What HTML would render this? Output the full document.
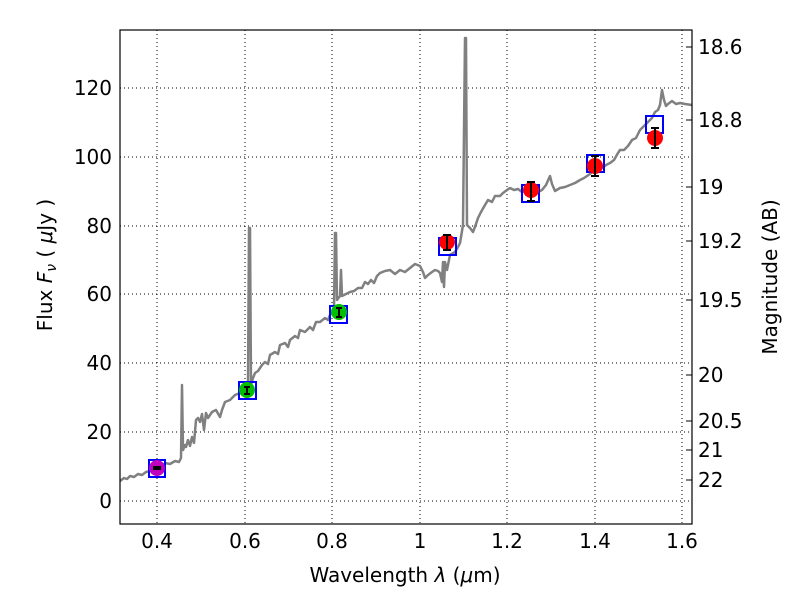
<!DOCTYPE html><html><head><style>body{margin:0;background:#fff}svg text{font-family:"DejaVu Sans","Liberation Sans",sans-serif}</style></head><body>
<svg width="800" height="600" xmlns="http://www.w3.org/2000/svg">
<rect width="800" height="600" fill="#fff"/>
<g stroke="#000" stroke-dasharray="1,3" stroke-width="1">
<line x1="157" y1="30" x2="157" y2="524"/><line x1="245" y1="30" x2="245" y2="524"/><line x1="332" y1="30" x2="332" y2="524"/><line x1="420" y1="30" x2="420" y2="524"/><line x1="507" y1="30" x2="507" y2="524"/><line x1="595" y1="30" x2="595" y2="524"/><line x1="682" y1="30" x2="682" y2="524"/>
<line x1="120" y1="501" x2="692" y2="501"/><line x1="120" y1="432" x2="692" y2="432"/><line x1="120" y1="363" x2="692" y2="363"/><line x1="120" y1="294" x2="692" y2="294"/><line x1="120" y1="226" x2="692" y2="226"/><line x1="120" y1="157" x2="692" y2="157"/><line x1="120" y1="88" x2="692" y2="88"/>
</g>
<polyline fill="none" stroke="#808080" stroke-width="2.5" stroke-linejoin="round" points="120,481 124,478 127,479 130,476 134,477 138,474 142,475 146,472 150,471 157,466 161,467 165,463 170,464 175,461 179,462 181,458 182,385 183,450 185,445 186,447 188,440 190,446 192,437 194,443 196,420 198,418 200,422 202,414 204,430 206,413 208,418 212,412 216,410 220,417 222,410 225,402 230,400 235,395 240,393 245,390 248,385 249,228 250,228 251,385 253,378 255,373 258,371 262,365 265,362 268,364 270,355 275,352 278,354 280,345 285,343 288,347 290,340 295,336 298,338 300,330 305,332 310,327 313,330 316,322 320,322 325,318 328,320 330,315 334,310 335,233 336,233 337,300 340,296 341,270 342,296 346,294 350,292 354,291 358,288 362,288 365,282 368,284 371,280 374,283 377,276 380,273 385,271 390,270 395,274 400,270 405,272 410,268 415,264 420,266 423,272 425,278 428,275 432,272 435,270 438,271 440,273 442,282 443,262 444,287 445,262 447,270 450,255 455,252 458,247 460,243 463,225 465,38 466,38 467,225 470,228 473,232 476,224 478,218 481,212 485,205 488,200 492,202 495,196 500,196 503,193 507,190 510,188 514,190 518,189 522,192 526,190 530,194 534,192 538,192 542,190 546,185 550,176 552,184 555,191 560,188 565,187 570,185 575,183 580,180 584,178 590,174 594,170 598,166 602,168 606,165 610,163 614,160 618,153 620,150 624,150 628,146 632,140 636,138 640,130 644,126 648,122 652,118 655,112 658,110 660,105 662,90 664,100 666,106 668,104 672,101 676,104 680,103 685,104 692,105"/>
<g fill="none" stroke="#0000ff" stroke-width="2">
<rect x="149" y="460" width="16" height="17"/><rect x="239" y="382" width="17" height="17"/><rect x="330" y="306" width="17" height="17"/><rect x="439" y="238" width="17" height="17"/><rect x="522" y="185" width="17" height="17"/><rect x="587" y="155" width="17" height="17"/><rect x="646" y="116" width="17" height="17"/>
</g>
<circle cx="157" cy="468" r="8" fill="#bf00bf"/><circle cx="247" cy="390" r="8" fill="#00bf00"/><circle cx="339" cy="312" r="8" fill="#00bf00"/>
<circle cx="447" cy="242" r="8" fill="#f00"/><circle cx="531" cy="190" r="8" fill="#f00"/><circle cx="595" cy="166" r="8" fill="#f00"/><circle cx="655" cy="138" r="8" fill="#f00"/>
<g stroke="#000" stroke-width="2">
<line x1="153" y1="468" x2="161" y2="468" stroke-width="4"/>
<line x1="247" y1="387" x2="247" y2="394"/><line x1="244" y1="387" x2="250" y2="387"/><line x1="244" y1="394" x2="250" y2="394"/>
<line x1="339" y1="308" x2="339" y2="317"/><line x1="336" y1="308" x2="342" y2="308"/><line x1="336" y1="317" x2="342" y2="317"/>
<line x1="447" y1="235" x2="447" y2="250"/><line x1="443" y1="235" x2="451" y2="235"/><line x1="443" y1="250" x2="451" y2="250"/>
<line x1="531" y1="182" x2="531" y2="201"/><line x1="527" y1="182" x2="535" y2="182"/><line x1="527" y1="201" x2="535" y2="201"/>
<line x1="595" y1="156" x2="595" y2="176"/><line x1="591" y1="156" x2="599" y2="156"/><line x1="591" y1="176" x2="599" y2="176"/>
<line x1="655" y1="128" x2="655" y2="148"/><line x1="651" y1="128" x2="659" y2="128"/><line x1="651" y1="148" x2="659" y2="148"/>
</g>
<rect x="120" y="30" width="572" height="494" fill="none" stroke="#000" stroke-width="1.2"/>
<g stroke="#000">
<line x1="692" y1="47" x2="686" y2="47"/><line x1="692" y1="120" x2="686" y2="120"/><line x1="692" y1="187" x2="686" y2="187"/><line x1="692" y1="241" x2="686" y2="241"/><line x1="692" y1="300" x2="686" y2="300"/><line x1="692" y1="375" x2="686" y2="375"/><line x1="692" y1="421" x2="686" y2="421"/><line x1="692" y1="450" x2="686" y2="450"/><line x1="692" y1="480" x2="686" y2="480"/>
</g>
<g font-size="20" fill="#000" text-anchor="end">
<text x="112" y="508">0</text><text x="112" y="439">20</text><text x="112" y="370">40</text><text x="112" y="301">60</text><text x="112" y="233">80</text><text x="112" y="164">100</text><text x="112" y="95">120</text>
</g>
<g font-size="20" fill="#000" text-anchor="middle">
<text x="157" y="548">0.4</text><text x="245" y="548">0.6</text><text x="332" y="548">0.8</text><text x="420" y="548">1</text><text x="507" y="548">1.2</text><text x="595" y="548">1.4</text><text x="682" y="548">1.6</text>
<text x="405" y="582">Wavelength  <tspan font-style="italic">λ</tspan> (<tspan font-style="italic">μ</tspan>m)</text>
</g>
<g font-size="20" fill="#000">
<text x="698" y="54">18.6</text><text x="698" y="127">18.8</text><text x="698" y="194">19</text><text x="698" y="248">19.2</text><text x="698" y="307">19.5</text><text x="698" y="382">20</text><text x="698" y="428">20.5</text><text x="698" y="457">21</text><text x="698" y="487">22</text>
</g>
<text transform="translate(777,277) rotate(-90)" font-size="20" text-anchor="middle">Magnitude (AB)</text>
<text transform="translate(52,265) rotate(-90)" font-size="20" text-anchor="middle">Flux  <tspan font-style="italic">F<tspan font-size="14" dy="4">ν</tspan></tspan><tspan dy="-4">  ( </tspan><tspan font-style="italic">μ</tspan>Jy )</text>
</svg></body></html>
